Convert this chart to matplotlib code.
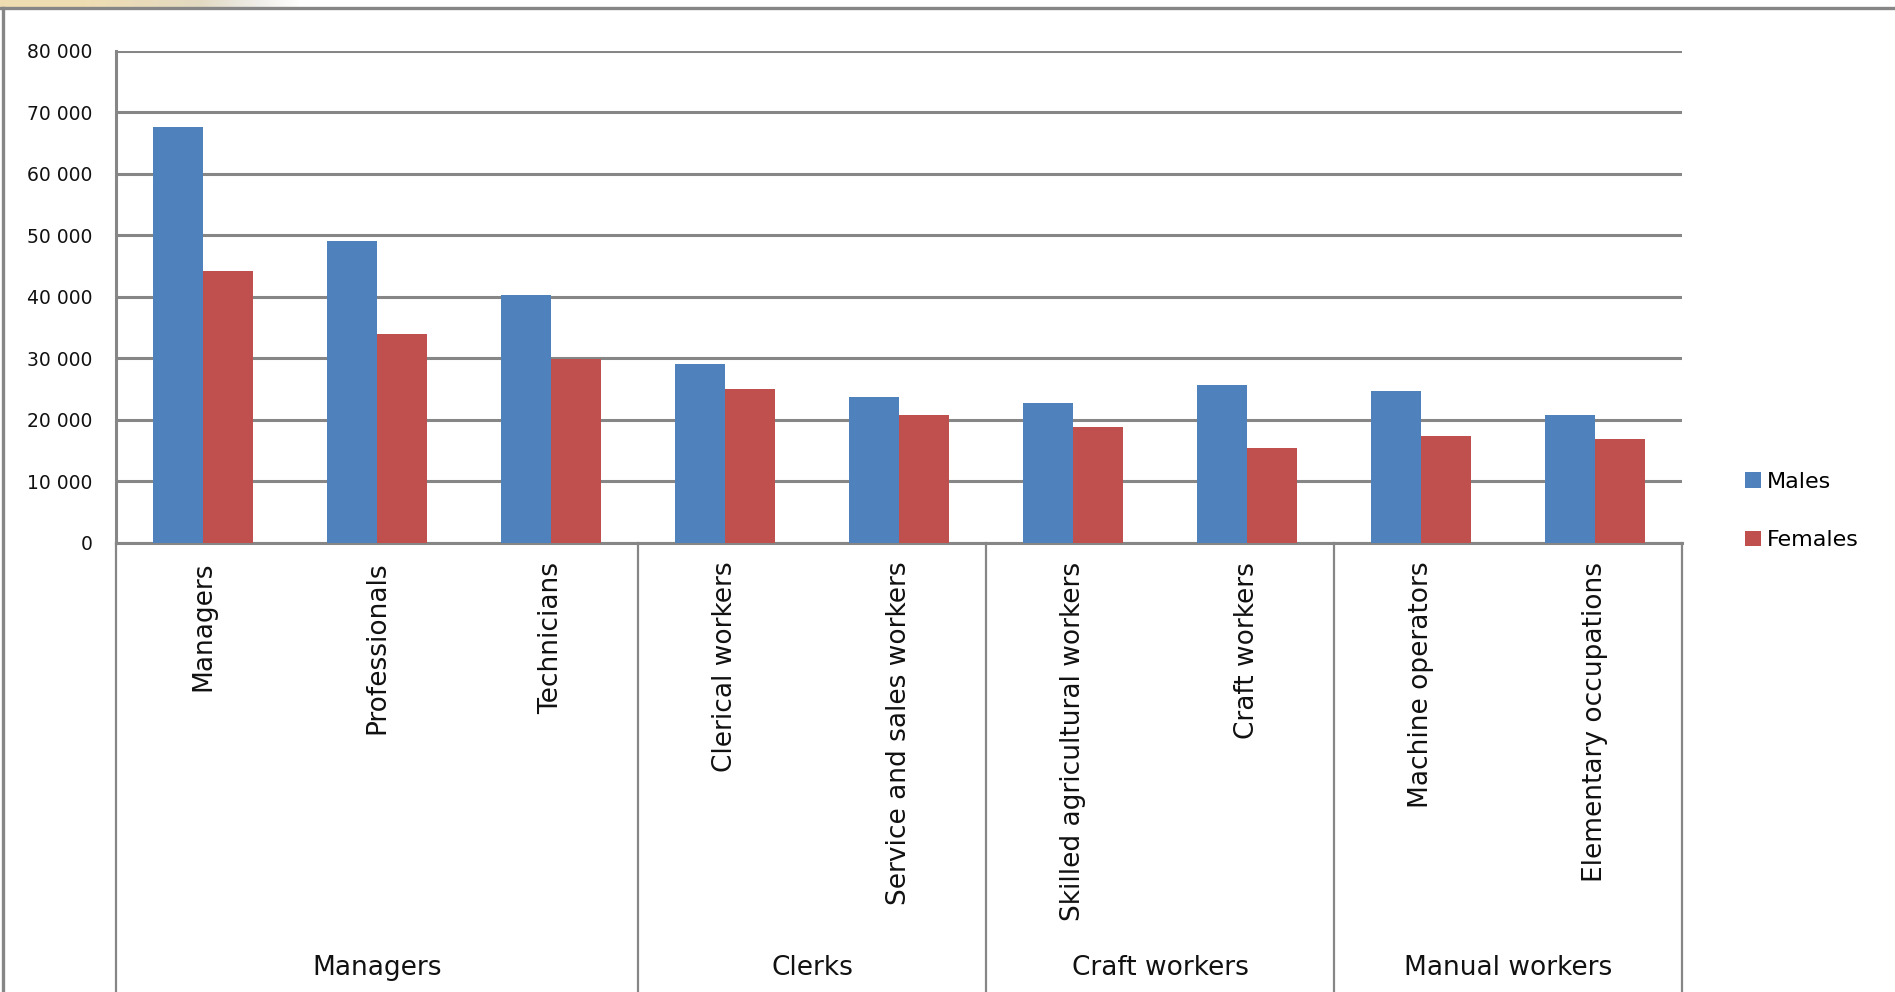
import matplotlib
matplotlib.use("Agg")
import matplotlib.pyplot as plt
import matplotlib.transforms as mtransforms
import numpy as np

# ---- Data -------------------------------------------------------------

occupations = [
    "Managers", "Professionals", "Technicians",
    "Clerical workers", "Service and sales workers",
    "Skilled agricultural workers", "Craft workers",
    "Machine operators", "Elementary occupations",
]
males = [67600, 49000, 40200, 29000, 23700, 22700, 25600, 24600, 20700]
females = [44100, 33900, 29900, 25000, 20700, 18800, 15400, 17300, 16800]

groups = ["Managers", "Clerks", "Craft workers", "Manual workers"]
group_sizes = [3, 2, 2, 2]

y_ticks = [0, 10000, 20000, 30000, 40000, 50000, 60000, 70000, 80000]

# ---- Style ------------------------------------------------------------

BLUE = "#4f81bd"
RED = "#c0504d"
GRID = "#868686"
TEXT = "#111111"

W, H = 1895, 992
fig = plt.figure(figsize=(W / 100, H / 100), dpi=100)
fig.patch.set_facecolor("white")

# plot area in pixels: x 116..1682, y(0)=542.6, y(80000)=50.8
left, right = 116 / W, 1682 / W
bottom, top = 1 - 542.6 / H, 1 - 50.8 / H
ax = fig.add_axes([left, bottom, right - left, top - bottom])

n = len(occupations)
x = np.arange(n) + 0.5
bw = 0.29
ax.bar(x - bw / 2, males, bw, color=BLUE, label="Males", zorder=3)
ax.bar(x + bw / 2, females, bw, color=RED, label="Females", zorder=3)

ax.set_xlim(0, n)
ax.set_ylim(0, 80000)
ax.set_yticks(y_ticks)
ax.set_yticklabels([f"{v:,}".replace(",", " ") for v in y_ticks],
                   fontsize=13.5, color=TEXT)
ax.tick_params(axis="y", length=0, pad=17)
ax.set_xticks([])
ax.grid(axis="y", color=GRID, linewidth=2.2, zorder=0)
ax.set_axisbelow(True)
for s in ("top", "right"):
    ax.spines[s].set_visible(False)
ax.spines["left"].set_color(GRID)
ax.spines["left"].set_linewidth(2.2)
ax.spines["bottom"].set_color(GRID)
ax.spines["bottom"].set_linewidth(2.2)

# ---- Two-level category axis ----------------------------------------

trans = mtransforms.blended_transform_factory(ax.transData, ax.transAxes)
for xi, name in zip(x, occupations):
    ax.text(xi, -0.039, name, transform=trans, rotation=90, ha="center",
            va="top", fontsize=19, color=TEXT)

edges = np.concatenate([[0], np.cumsum(group_sizes)])
for e in edges:
    ax.plot([e, e], [0, -1.0], transform=trans, color=GRID,
            linewidth=1.6, clip_on=False)
for g, a, b in zip(groups, edges[:-1], edges[1:]):
    ax.text((a + b) / 2, -0.865, g, transform=trans, ha="center",
            va="center", fontsize=19, color=TEXT)

# ---- Legend -----------------------------------------------------------

fig.legend(loc="center left", bbox_to_anchor=(1745 / W, 1 - 511 / H),
           frameon=False, fontsize=16, handlelength=0.7, handleheight=0.7,
           handletextpad=0.3, labelspacing=1.75, borderpad=0,
           borderaxespad=0)

# ---- Outer chart frame + screenshot edge ------------------------------

fig.add_artist(plt.Line2D([0, 1], [1 - 8 / H, 1 - 8 / H], color=GRID,
                          linewidth=2.4, transform=fig.transFigure))
fig.add_artist(plt.Line2D([3 / W, 3 / W], [0, 1 - 8 / H], color=GRID,
                          linewidth=2.4, transform=fig.transFigure))
band = fig.add_axes([0, 1 - 7 / H, 300 / W, 7 / H])
grad = np.ones((1, 300, 3))
beige = np.array([0.94, 0.87, 0.70])
fade = np.clip((np.arange(300) - 83) / 200, 0, 1)
grad[0] = beige * (1 - fade[:, None]) + np.array([0.85, 0.84, 0.80]) * fade[:, None]
grad[0, 200:] = grad[0, 200:] * (1 - (np.arange(100) / 100)[:, None]) + (np.arange(100) / 100)[:, None]
band.imshow(grad, aspect="auto")
band.axis("off")

fig.savefig("out.png", dpi=100)
